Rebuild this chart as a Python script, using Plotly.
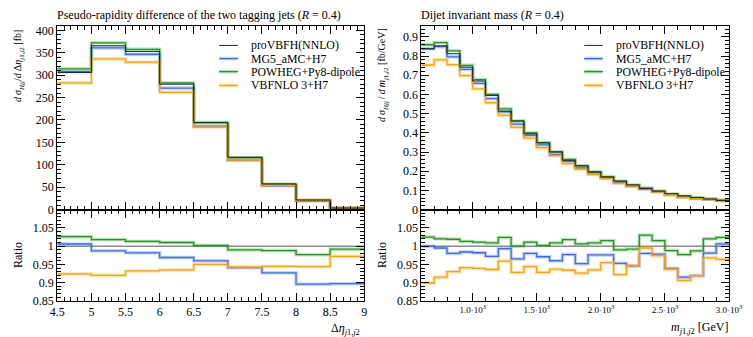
import plotly.graph_objects as go

# ---- Pseudo-rapidity difference of the two tagging jets ----
deta_edges = [4.5, 5.0, 5.5, 6.0, 6.5, 7.0, 7.5, 8.0, 8.5, 9.0]
deta_provbfh = [306.0, 365.5, 353.0, 280.0, 194.0, 117.0, 57.5, 21.5, 3.60]
deta_mg5 = [307.8, 360.8, 346.6, 271.3, 186.2, 110.1, 53.3, 19.26, 3.23]
deta_powheg = [314.0, 372.1, 357.6, 282.8, 194.4, 115.8, 56.8, 21.0, 3.57]
deta_vbfnlo = [282.7, 336.3, 329.0, 261.8, 184.3, 110.3, 54.3, 20.3, 3.50]

# ---- Dijet invariant mass ----
mjj_edges = list(range(600, 3001, 100))
mjj_provbfh = [0.838, 0.853, 0.812, 0.742, 0.670, 0.595, 0.513, 0.462, 0.395, 0.348,
               0.300, 0.257, 0.228, 0.196, 0.170, 0.149, 0.129, 0.110, 0.096, 0.083,
               0.072, 0.063, 0.055, 0.048]
mjj_mg5 = [0.83800, 0.84874, 0.79576, 0.73013, 0.65794, 0.57834, 0.50941, 0.44583,
           0.38710, 0.33791, 0.28800, 0.25109, 0.21706, 0.19130, 0.16592, 0.14200,
           0.12203, 0.10780, 0.09389, 0.07794, 0.06588, 0.05790, 0.05396, 0.04829]
mjj_powheg = [0.85895, 0.87006, 0.82743, 0.75165, 0.67737, 0.60036, 0.52531, 0.46200,
              0.39935, 0.34870, 0.30270, 0.26163, 0.22937, 0.19776, 0.17255, 0.14751,
              0.12797, 0.11330, 0.09744, 0.08200, 0.07034, 0.06218, 0.05610, 0.04915]
mjj_vbfnlo = [0.75336, 0.78050, 0.75516, 0.69822, 0.62913, 0.55692, 0.49197, 0.42874,
              0.37288, 0.32294, 0.28110, 0.24004, 0.21113, 0.18326, 0.16235, 0.13738,
              0.12216, 0.10945, 0.09350, 0.07777, 0.06523, 0.05790, 0.05324, 0.04627]

labels = ["proVBFH(NNLO)", "MG5_aMC+H7", "POWHEG+Py8-dipole", "VBFNLO 3+H7"]
colors = ["#000000", "#3a6cf4", "#1e9a1e", "#ffa200"]

mjj_tickvals = [1000, 1500, 2000, 2500, 3000]
mjj_ticktext = ["1.0·10<sup>3</sup>", "1.5·10<sup>3</sup>", "2.0·10<sup>3</sup>",
                "2.5·10<sup>3</sup>", "3.0·10<sup>3</sup>"]

W, H = 753, 337
FONT = "Liberation Serif"
TS = "\u2009"  # thin space used in the math-style axis titles

# panel geometry in pixels
LX0, LX1 = 51.7, 367.0
RX0, RX1 = 425.7, 741.7
YTOP, YMID, YBOT = 24.0, 213.0, 307.0


def px(x):
    return x / W


def py(y):
    return 1 - y / H


def steps(edges, vals):
    return list(edges), list(vals) + [vals[-1]]


fig = go.Figure()

panels = [
    ("x", "y", "x2", "y2", deta_edges,
     [deta_provbfh, deta_mg5, deta_powheg, deta_vbfnlo]),
    ("x3", "y3", "x4", "y4", mjj_edges,
     [mjj_provbfh, mjj_mg5, mjj_powheg, mjj_vbfnlo]),
]

for xm, ym, xr, yr, edges, series in panels:
    ref = series[0]
    # main distributions: MC predictions first, reference on top
    for i in [1, 2, 3, 0]:
        xs, ys = steps(edges, series[i])
        if i > 0:
            fig.add_trace(go.Scatter(x=xs, y=ys, xaxis=xm, yaxis=ym, mode="lines",
                                     line=dict(shape="hv", color=colors[i], width=3.5),
                                     opacity=0.3, showlegend=False, hoverinfo="skip"))
            fig.add_trace(go.Scatter(x=xs, y=ys, xaxis=xm, yaxis=ym, mode="lines",
                                     line=dict(shape="hv", color=colors[i], width=1.3),
                                     showlegend=False))
        else:
            fig.add_trace(go.Scatter(x=xs, y=ys, xaxis=xm, yaxis=ym, mode="lines",
                                     line=dict(shape="hv", color="#222222", width=1.0),
                                     showlegend=False))
    # ratio to proVBFH
    for i in [0, 1, 2, 3]:
        r = [v / b for v, b in zip(series[i], ref)]
        xs, ys = steps(edges, r)
        if i == 0:
            fig.add_trace(go.Scatter(x=xs, y=ys, xaxis=xr, yaxis=yr, mode="lines",
                                     line=dict(shape="hv", color="#8c8c8c", width=1.5),
                                     showlegend=False))
        else:
            fig.add_trace(go.Scatter(x=xs, y=ys, xaxis=xr, yaxis=yr, mode="lines",
                                     line=dict(shape="hv", color=colors[i], width=3.5),
                                     opacity=0.3, showlegend=False, hoverinfo="skip"))
            fig.add_trace(go.Scatter(x=xs, y=ys, xaxis=xr, yaxis=yr, mode="lines",
                                     line=dict(shape="hv", color=colors[i], width=1.3),
                                     showlegend=False))

tickfont = dict(family=FONT, size=12, color="black")


def axis_style(**kw):
    d = dict(showline=True, linecolor="black", linewidth=1.2, mirror="allticks",
             ticks="inside", ticklen=8, tickwidth=1, tickcolor="black",
             showgrid=False, zeroline=False, tickfont=tickfont)
    d.update(kw)
    return d


minor_style = dict(ticks="inside", ticklen=4, tickwidth=1, tickcolor="black", showgrid=False)

fig.update_layout(
    width=W, height=H, margin=dict(l=0, r=0, t=0, b=0),
    paper_bgcolor="white", plot_bgcolor="white", showlegend=False,
    font=dict(family=FONT, size=12, color="black"),
    # left column
    xaxis=axis_style(domain=[px(LX0), px(LX1)], anchor="y", range=[4.5, 9.0],
                     dtick=0.5, tick0=4.5, showticklabels=False,
                     minor=dict(dtick=0.1, **minor_style)),
    yaxis=axis_style(domain=[py(YMID), py(YTOP)], anchor="x", range=[0, 409],
                     dtick=50, tick0=0, minor=dict(dtick=10, **minor_style)),
    xaxis2=axis_style(domain=[px(LX0), px(LX1)], anchor="y2", range=[4.5, 9.0],
                      dtick=0.5, tick0=4.5, ticklabelstandoff=0,
                      minor=dict(dtick=0.1, **minor_style)),
    yaxis2=axis_style(domain=[py(YBOT), py(YMID)], anchor="x2", range=[0.85, 1.10],
                      tickmode="array", tickvals=[0.85, 0.9, 0.95, 1.0, 1.05],
                      ticktext=["0.85", "0.9", "0.95", "1", "1.05"],
                      minor=dict(dtick=0.01, tick0=0.85, **minor_style)),
    # right column
    xaxis3=axis_style(domain=[px(RX0), px(RX1)], anchor="y3", range=[600, 3000],
                      tickmode="array", tickvals=mjj_tickvals, showticklabels=False,
                      minor=dict(tickmode="array", tickvals=mjj_edges, **minor_style)),
    yaxis3=axis_style(domain=[py(YMID), py(YTOP)], anchor="x3", range=[0, 0.955],
                      dtick=0.1, tick0=0, minor=dict(dtick=0.02, **minor_style)),
    xaxis4=axis_style(domain=[px(RX0), px(RX1)], anchor="y4", range=[600, 3000],
                      tickmode="array", tickvals=mjj_tickvals, ticktext=mjj_ticktext,
                      tickfont=dict(family=FONT, size=9, color="black"),
                      minor=dict(tickmode="array", tickvals=mjj_edges, **minor_style)),
    yaxis4=axis_style(domain=[py(YBOT), py(YMID)], anchor="x4", range=[0.85, 1.10],
                      tickmode="array", tickvals=[0.85, 0.9, 0.95, 1.0, 1.05],
                      ticktext=["0.85", "0.9", "0.95", "1", "1.05"],
                      minor=dict(dtick=0.01, tick0=0.85, **minor_style)),
)

ann = []
# panel titles
ann.append(dict(text="Pseudo-rapidity difference of the two tagging jets (<i>R</i> = 0.4)",
                x=px(LX0 - 2), y=py(12), xanchor="left", yanchor="middle", font=dict(size=12)))
ann.append(dict(text="Dijet invariant mass (<i>R</i> = 0.4)",
                x=px(RX0 - 2), y=py(12), xanchor="left", yanchor="middle", font=dict(size=12)))
# y-axis titles
ylab_left = (f"<i>d</i>{TS}<i>σ</i><sub><i>Hjj</i></sub>/<i>d</i>{TS}Δ<i>η</i>"
             f"<sub><i>j</i>1,<i>j</i>2</sub> [fb]")
ylab_right = (f"<i>d</i>{TS}<i>σ</i><sub><i>Hjj</i></sub>{TS}/{TS}<i>d</i>{TS}<i>m</i>"
              f"<sub><i>j</i>1,<i>j</i>2</sub> [fb/GeV]")
ann.append(dict(text=ylab_left, x=px(12), y=py(YTOP + 2), xanchor="center", yanchor="top",
                textangle=-90, font=dict(size=10)))
ann.append(dict(text=ylab_right, x=px(386), y=py(YTOP), xanchor="center", yanchor="top",
                textangle=-90, font=dict(size=10)))
ann.append(dict(text="Ratio", x=px(12), y=py((YMID + YBOT) / 2), xanchor="center",
                yanchor="middle", textangle=-90, font=dict(size=12)))
ann.append(dict(text="Ratio", x=px(386), y=py((YMID + YBOT) / 2), xanchor="center",
                yanchor="middle", textangle=-90, font=dict(size=12)))
# x-axis titles
ann.append(dict(text="Δ<i>η</i><sub><i>j</i>1,<i>j</i>2</sub>", x=px(LX1 - 3), y=py(345),
                xanchor="right", yanchor="bottom", borderpad=0, font=dict(size=12)))
ann.append(dict(text="<i>m</i><sub><i>j</i>1,<i>j</i>2</sub> [GeV]", x=px(RX1), y=py(344),
                xanchor="right", yanchor="bottom", borderpad=0, font=dict(size=12)))

shapes = []
legend_rows = [43.7, 57.3, 70.7, 85.0]
for lx0, lx1, tx in [(218, 237, 249), (593, 612, 624)]:
    for k, yrow in enumerate(legend_rows):
        c = colors[k] if k > 0 else "#222222"
        if k > 0:
            shapes.append(dict(type="line", xref="paper", yref="paper",
                               x0=px(lx0), x1=px(lx1), y0=py(yrow), y1=py(yrow),
                               line=dict(color=c, width=3.5), opacity=0.3))
        shapes.append(dict(type="line", xref="paper", yref="paper",
                           x0=px(lx0), x1=px(lx1), y0=py(yrow), y1=py(yrow),
                           line=dict(color=c, width=1.3 if k > 0 else 1.0)))
        ann.append(dict(text=labels[k], x=px(tx), y=py(yrow), xanchor="left",
                        yanchor="middle", font=dict(size=11.8)))

for a in ann:
    a.update(xref="paper", yref="paper", showarrow=False)
fig.update_layout(annotations=ann, shapes=shapes)

fig.write_html("out.html")
